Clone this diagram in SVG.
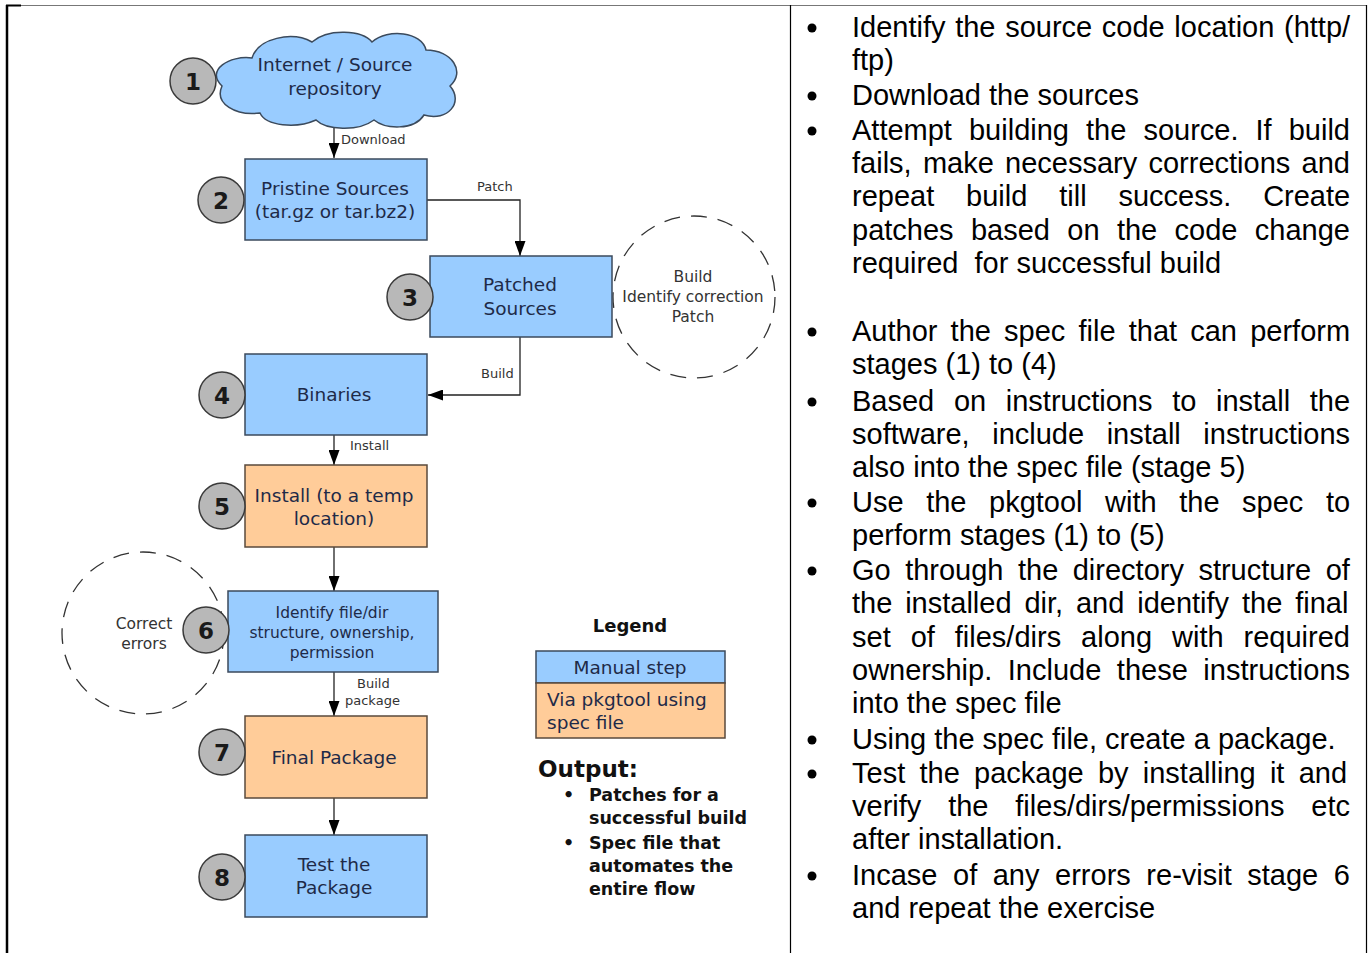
<svg xmlns="http://www.w3.org/2000/svg" width="1369" height="953" viewBox="0 0 1369 953">
<style>
.blue{fill:#99ccff;stroke:#3b4a5c;stroke-width:1.5}
.orange{fill:#ffcc99;stroke:#5a4a3c;stroke-width:1.5}
.num{fill:#b8b8b8;stroke:#3a3a3a;stroke-width:1.5}
.numt{font-family:"DejaVu Sans",sans-serif;font-weight:bold;font-size:23px;fill:#1a1a1a;text-anchor:middle}
.nt{font-family:"DejaVu Sans",sans-serif;font-size:18.5px;fill:#1e2a48;text-anchor:middle}
.ntl{font-family:"DejaVu Sans",sans-serif;font-size:18.5px;fill:#1e2a48;text-anchor:start}
.nts{font-family:"DejaVu Sans",sans-serif;font-size:15.5px;fill:#1e2a48;text-anchor:middle}
.dt{font-family:"DejaVu Sans",sans-serif;font-size:15.5px;fill:#333;text-anchor:middle}
.lbl{font-family:"DejaVu Sans",sans-serif;font-size:13px;fill:#333}
.dash{fill:none;stroke:#333;stroke-width:1.3;stroke-dasharray:16 11}
.conn{fill:none;stroke:#222;stroke-width:1.3}
.rt{font-family:"Liberation Sans",Arial,sans-serif;font-size:29px;fill:#000}
.lg{font-family:"DejaVu Sans",sans-serif;fill:#111}
</style>
<defs>
<marker id="ah" viewBox="0 0 15 11" markerWidth="15" markerHeight="11" refX="15" refY="5.5" orient="auto" markerUnits="userSpaceOnUse">
<path d="M0,0 L15,5.5 L0,11 z" fill="#000"/>
</marker>
</defs>
<rect x="0" y="0" width="1369" height="953" fill="#fff"/>
<g id="table">
<line x1="7" y1="5.5" x2="1367" y2="5.5" stroke="#777" stroke-width="1"/>
<line x1="6" y1="5.5" x2="21" y2="5.5" stroke="#000" stroke-width="2"/>
<line x1="7" y1="5" x2="7" y2="953" stroke="#000" stroke-width="2.5"/>
<line x1="790.5" y1="5" x2="790.5" y2="953" stroke="#000" stroke-width="1.2"/>
<line x1="1366.5" y1="5" x2="1366.5" y2="953" stroke="#000" stroke-width="1.2"/>
</g>
<g id="connectors">
<path class="conn" d="M334 125 V158" marker-end="url(#ah)"/>
<path class="conn" d="M427 200 H520 V256" marker-end="url(#ah)"/>
<path class="conn" d="M520 337 V395 H428" marker-end="url(#ah)"/>
<path class="conn" d="M334 435 V465" marker-end="url(#ah)"/>
<path class="conn" d="M334 547 V591" marker-end="url(#ah)"/>
<path class="conn" d="M334 672 V716" marker-end="url(#ah)"/>
<path class="conn" d="M334 798 V835" marker-end="url(#ah)"/>
<text class="lbl" x="341" y="144">Download</text>
<text class="lbl" x="477" y="191">Patch</text>
<text class="lbl" x="481" y="378">Build</text>
<text class="lbl" x="350" y="450">Install</text>
<text class="lbl" x="357" y="688">Build</text>
<text class="lbl" x="345" y="705">package</text>
</g>
<g id="node1">
<path class="blue" d="M222 86 C205 70 230 55 252 58 C258 38 292 31 312 42 C328 28 362 30 372 42 C388 28 422 32 426 50 C452 50 466 72 450 86 C464 102 448 122 424 115 C414 131 385 129 374 120 C358 132 326 130 316 120 C296 129 266 126 260 113 C236 116 214 104 222 86 Z"/>
<text class="nt" x="335" y="71">Internet / Source</text>
<text class="nt" x="335" y="95">repository</text>
<circle class="num" cx="193" cy="81" r="23"/>
<text class="numt" x="193" y="89.5">1</text>
</g>
<g id="node2">
<rect class="blue" x="245" y="159" width="182" height="81"/>
<text class="nt" x="335" y="195">Pristine Sources</text>
<text class="nt" x="335" y="218">(tar.gz or tar.bz2)</text>
<circle class="num" cx="221" cy="200" r="23"/>
<text class="numt" x="221" y="208.5">2</text>
</g>
<g id="loop3">
<circle class="dash" cx="694" cy="297" r="81"/>
<text class="dt" x="693" y="282">Build</text>
<text class="dt" x="693" y="302">Identify correction</text>
<text class="dt" x="693" y="322">Patch</text>
</g>
<g id="node3">
<rect class="blue" x="430" y="256" width="182" height="81"/>
<text class="nt" x="520" y="291">Patched</text>
<text class="nt" x="520" y="315">Sources</text>
<circle class="num" cx="410" cy="297" r="23"/>
<text class="numt" x="410" y="305.5">3</text>
</g>
<g id="node4">
<rect class="blue" x="245" y="354" width="182" height="81"/>
<text class="nt" x="334" y="401">Binaries</text>
<circle class="num" cx="222" cy="395" r="23"/>
<text class="numt" x="222" y="403.5">4</text>
</g>
<g id="node5">
<rect class="orange" x="245" y="465" width="182" height="82"/>
<text class="nt" x="334" y="502">Install (to a temp</text>
<text class="nt" x="334" y="525">location)</text>
<circle class="num" cx="222" cy="506" r="23"/>
<text class="numt" x="222" y="514.5">5</text>
</g>
<g id="loop6">
<circle class="dash" cx="143" cy="633" r="81"/>
<text class="dt" x="144" y="629">Correct</text>
<text class="dt" x="144" y="649">errors</text>
</g>
<g id="node6">
<rect class="blue" x="228" y="591" width="210" height="81"/>
<text class="nts" x="332" y="618">Identify file/dir</text>
<text class="nts" x="332" y="638">structure, ownership,</text>
<text class="nts" x="332" y="658">permission</text>
<circle class="num" cx="206" cy="630" r="23"/>
<text class="numt" x="206" y="638.5">6</text>
</g>
<g id="node7">
<rect class="orange" x="245" y="716" width="182" height="82"/>
<text class="nt" x="334" y="764">Final Package</text>
<circle class="num" cx="222" cy="752" r="23"/>
<text class="numt" x="222" y="760.5">7</text>
</g>
<g id="node8">
<rect class="blue" x="245" y="835" width="182" height="82"/>
<text class="nt" x="334" y="871">Test the</text>
<text class="nt" x="334" y="894">Package</text>
<circle class="num" cx="222" cy="877" r="23"/>
<text class="numt" x="222" y="885.5">8</text>
</g>
<g id="legend">
<text class="lg" x="630" y="632" font-size="18" font-weight="bold" text-anchor="middle">Legend</text>
<rect class="blue" x="536" y="651" width="189" height="32"/>
<rect class="orange" x="536" y="683" width="189" height="55"/>
<text class="nt" x="630" y="674">Manual step</text>
<text class="ntl" x="547" y="706">Via pkgtool using</text>
<text class="ntl" x="547" y="729">spec file</text>
</g>
<g id="output">
<text class="lg" x="538" y="777" font-size="23" font-weight="bold">Output:</text>
<text class="lg" x="563" y="801" font-size="17.5" font-weight="bold">•</text>
<text class="lg" x="589" y="801" font-size="17.5" font-weight="bold">Patches for a</text>
<text class="lg" x="589" y="824" font-size="17.5" font-weight="bold">successful build</text>
<text class="lg" x="563" y="849" font-size="17.5" font-weight="bold">•</text>
<text class="lg" x="589" y="849" font-size="17.5" font-weight="bold">Spec file that</text>
<text class="lg" x="589" y="872" font-size="17.5" font-weight="bold">automates the</text>
<text class="lg" x="589" y="895" font-size="17.5" font-weight="bold">entire flow</text>
</g>
<g id="steps-text" transform="translate(0,3)">
<g fill="#000">
<circle cx="812" cy="25" r="4.5"/>
<circle cx="812" cy="93" r="4.5"/>
<circle cx="812" cy="128" r="4.5"/>
<circle cx="812" cy="329" r="4.5"/>
<circle cx="812" cy="399" r="4.5"/>
<circle cx="812" cy="500" r="4.5"/>
<circle cx="812" cy="568" r="4.5"/>
<circle cx="812" cy="737" r="4.5"/>
<circle cx="812" cy="771" r="4.5"/>
<circle cx="812" cy="873" r="4.5"/>
</g>
<text class="rt" x="852" y="34" word-spacing="1.6">Identify the source code location (http/</text>
<text class="rt" x="852" y="67">ftp)</text>
<text class="rt" x="852" y="102">Download the sources</text>
<text class="rt" x="852" y="137" word-spacing="9">Attempt building the source. If build</text>
<text class="rt" x="852" y="170" word-spacing="3.2">fails, make necessary corrections and</text>
<text class="rt" x="852" y="203" word-spacing="23.8">repeat build till success. Create</text>
<text class="rt" x="852" y="237" word-spacing="9.3">patches based on the code change</text>
<text class="rt" x="852" y="270">required&#160; for successful build</text>
<text class="rt" x="852" y="338" word-spacing="5.1">Author the spec file that can perform</text>
<text class="rt" x="852" y="371">stages (1) to (4)</text>
<text class="rt" x="852" y="408" word-spacing="11.6">Based on instructions to install the</text>
<text class="rt" x="852" y="441" word-spacing="14.5">software, include install instructions</text>
<text class="rt" x="852" y="474">also into the spec file (stage 5)</text>
<text class="rt" x="852" y="509" word-spacing="14.5">Use the pkgtool with the spec to</text>
<text class="rt" x="852" y="542">perform stages (1) to (5)</text>
<text class="rt" x="852" y="577" word-spacing="6.4">Go through the directory structure of</text>
<text class="rt" x="852" y="610" word-spacing="4.8">the installed dir, and identify the final</text>
<text class="rt" x="852" y="644" word-spacing="11.9">set of files/dirs along with required</text>
<text class="rt" x="852" y="677" word-spacing="7.5">ownership. Include these instructions</text>
<text class="rt" x="852" y="710">into the spec file</text>
<text class="rt" x="852" y="746">Using the spec file, create a package.</text>
<text class="rt" x="852" y="780" word-spacing="6.2">Test the package by installing it and</text>
<text class="rt" x="852" y="813" word-spacing="18.8">verify the files/dirs/permissions etc</text>
<text class="rt" x="852" y="846">after installation.</text>
<text class="rt" x="852" y="882" word-spacing="7.5">Incase of any errors re-visit stage 6</text>
<text class="rt" x="852" y="915">and repeat the exercise</text>
</g>
</svg>
